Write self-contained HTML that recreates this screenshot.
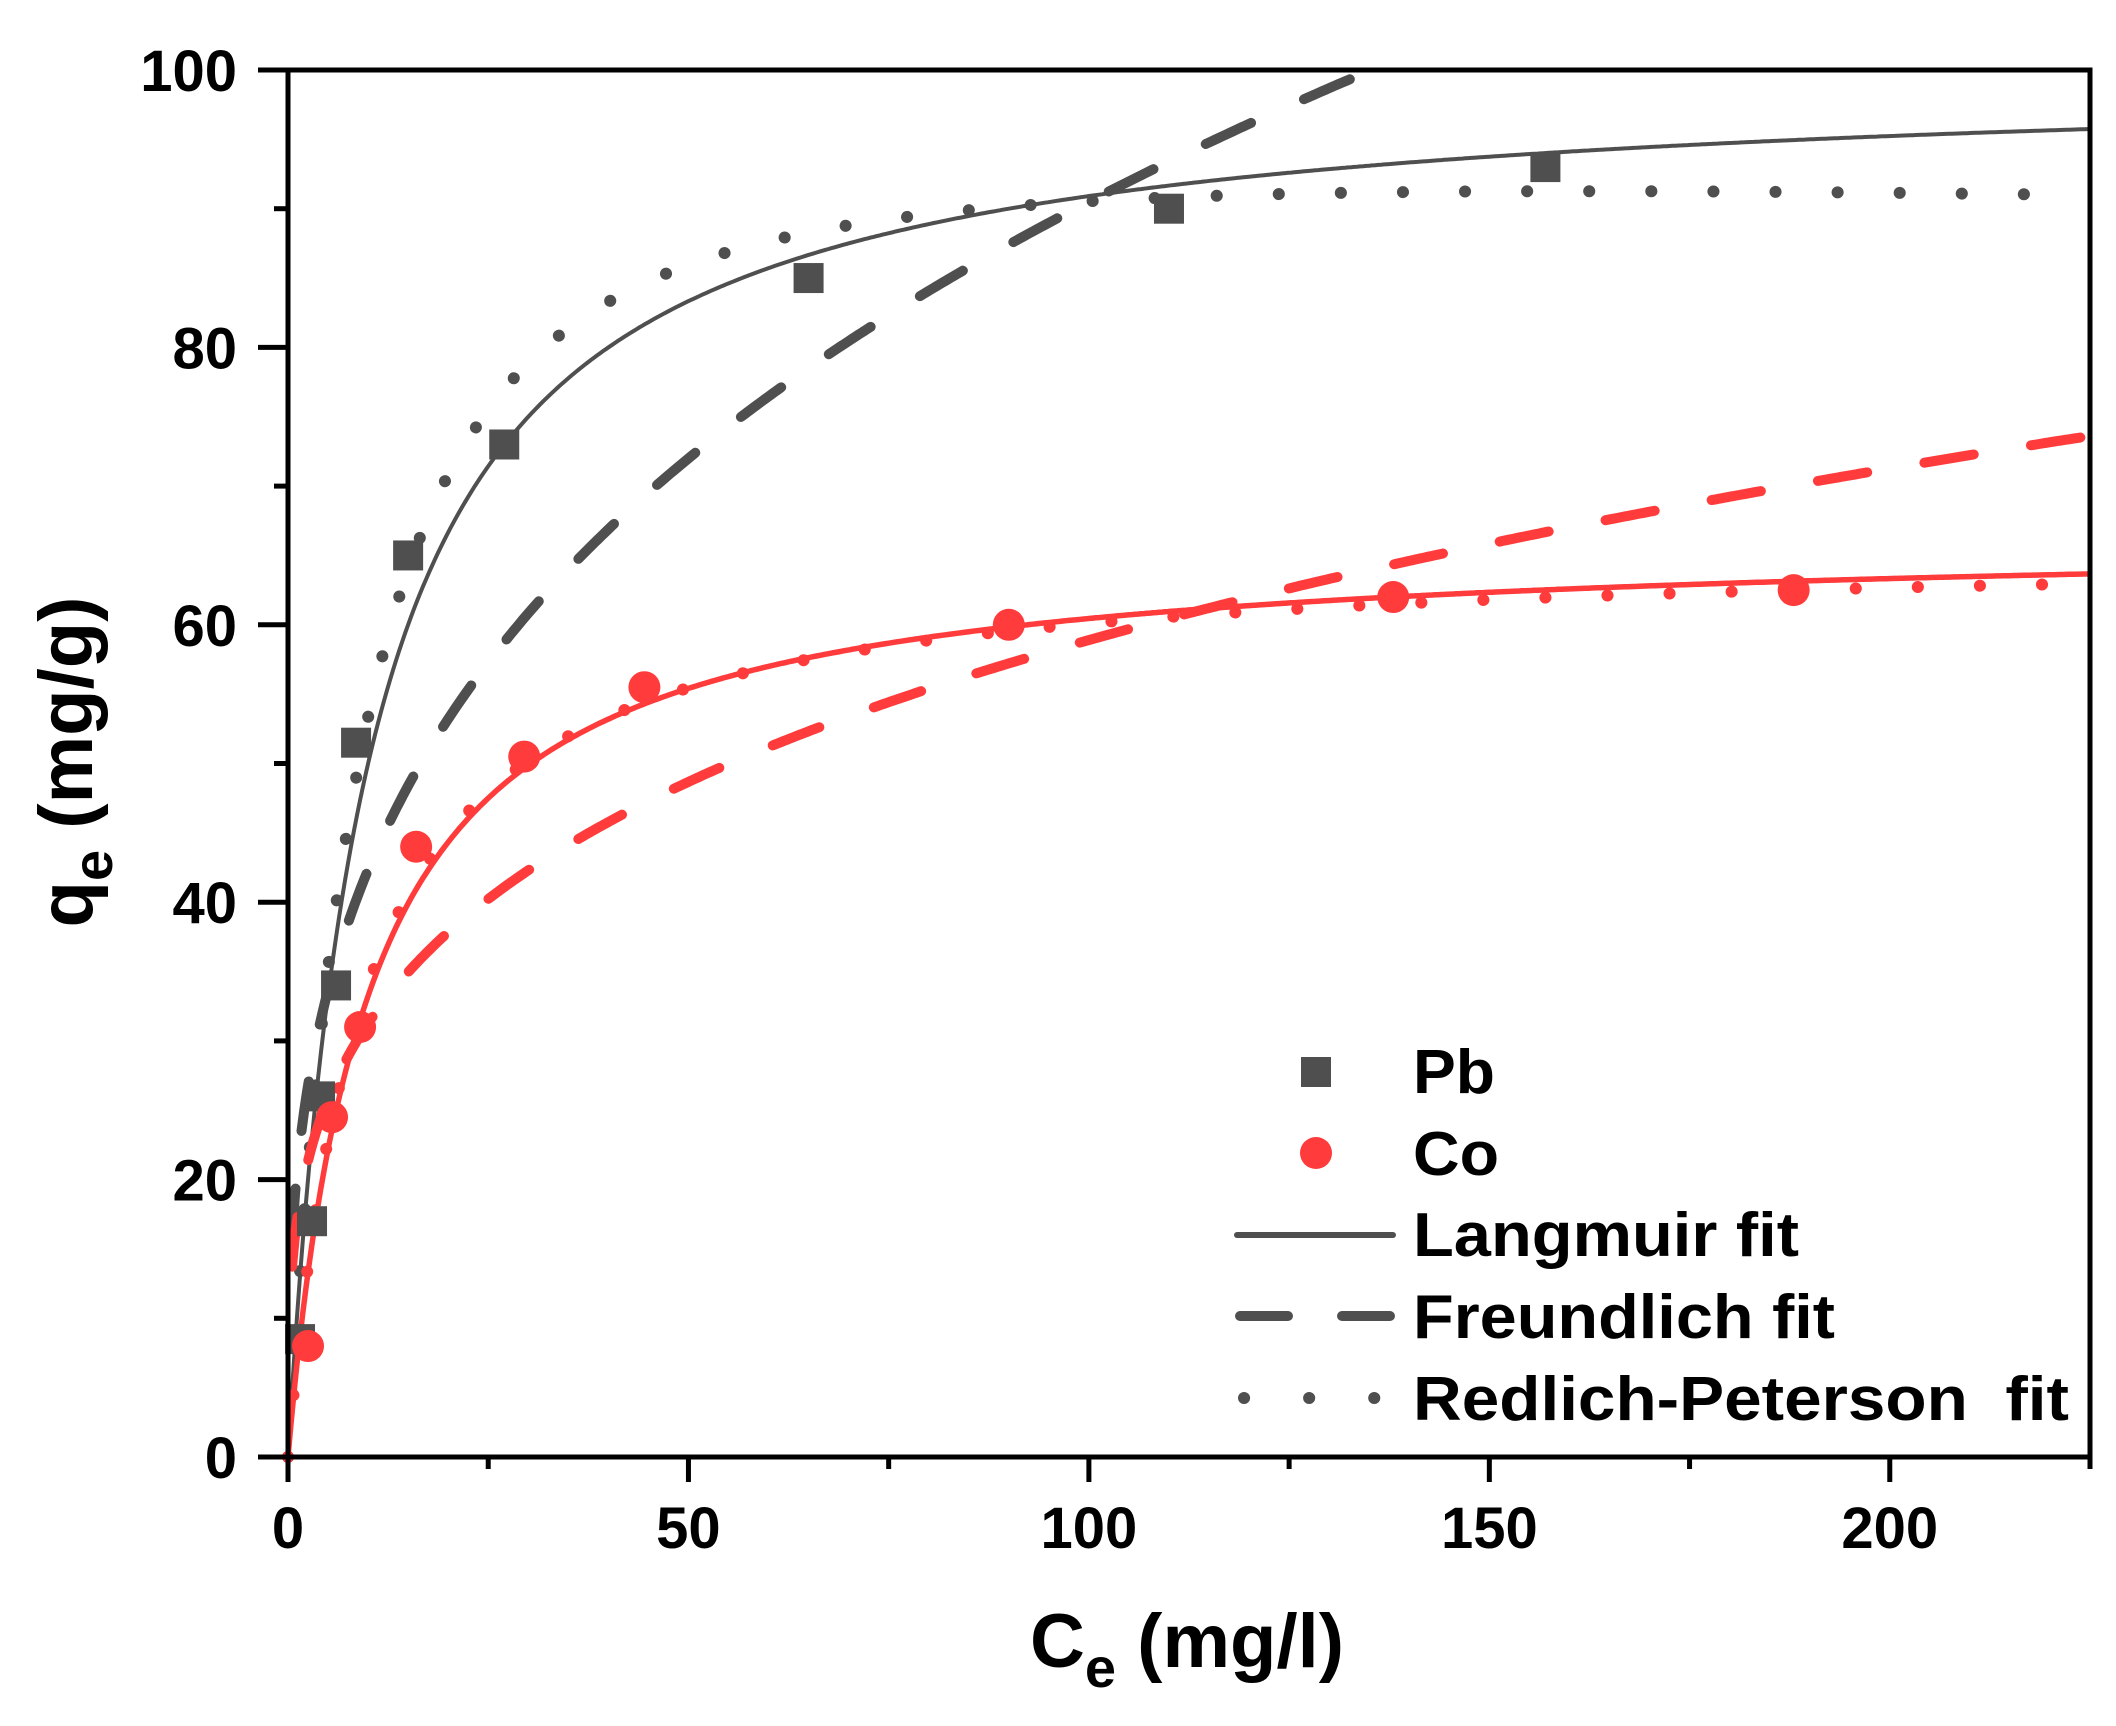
<!DOCTYPE html>
<html><head><meta charset="utf-8"><style>
html,body{margin:0;padding:0;background:#fff;}
svg{display:block;}
text{font-family:"Liberation Sans",sans-serif;font-weight:bold;fill:#000;}
</style></head><body>
<svg id="chart" width="2116" height="1726" viewBox="0 0 2116 1726" xmlns="http://www.w3.org/2000/svg">
<g id="plot"></g>
<g id="axes"></g>
</svg>
<script>
const xTicks = [0, 50, 100, 150, 200];
const yTicks = [0, 20, 40, 60, 80, 100];
const pbX = [1.5, 3, 4, 6, 8.5, 15, 27, 65, 110, 157];
const pbY = [8.5, 17, 26, 34, 51.5, 65, 73, 85, 90, 93];
const coX = [2.5, 5.5, 9, 16, 29.5, 44.5, 90, 138, 188];
const coY = [8, 24.5, 31, 44, 50.5, 55.5, 60, 62, 62.5];
const pbLangmuir = [100, 0.1];        // qm, KL
const coLangmuir = [66.5, 0.1];
const pbFreundlich = [19.8, 0.33];    // KF, 1/n
const coFreundlich = [16.6, 0.275];
const pbRP = [10, 0.0762, 1.06];      // K, a, beta
const coRP = [7, 0.105, 1.003];

const X0=288, X1=2090, Y0=1457, Y1=70, XMAX=225, YMAX=100;
const sx = v => X0 + v/XMAX*(X1-X0);
const sy = v => Y0 - v/YMAX*(Y0-Y1);
const NS='http://www.w3.org/2000/svg';
function mk(tag, attrs, parent){const e=document.createElementNS(NS,tag);for(const k in attrs)e.setAttribute(k,attrs[k]);parent.appendChild(e);return e;}
const plot=document.getElementById('plot'), axes=document.getElementById('axes');
const GRAY='#4f4f4f', RED='#ff3b3b';

function curve(fn, xStart, xEnd){
  let d='';
  for(let i=0;i<=600;i++){
    const c=xStart+(xEnd-xStart)*i/600;
    let q=fn(c);
    if(q>YMAX){ if(d) break; else continue; }
    d+=(d?'L':'M')+sx(c).toFixed(1)+','+sy(q).toFixed(1);
  }
  return d;
}
const lang=p=>c=>p[0]*p[1]*c/(1+p[1]*c);
const freu=p=>c=>p[0]*Math.pow(c,p[1]);
const rp=p=>c=>p[0]*c/(1+p[1]*Math.pow(c,p[2]));

function drawFits(color, L, F, R, prefix, lw){
  let e;
  e=mk('path',{d:curve(freu(F),0.5,XMAX),fill:'none',stroke:color,'stroke-width':10,'stroke-dasharray':'50 58','stroke-linecap':'round'},plot);
  
  
  e=mk('path',{d:curve(rp(R),0,XMAX-3),fill:'none',stroke:color,'stroke-width':12,'stroke-dasharray':'0.1 62','stroke-linecap':'round'},plot);
  
  
  e=mk('path',{d:curve(lang(L),0,XMAX),fill:'none',stroke:color,'stroke-width':lw},plot);
  
  
}
drawFits(GRAY,pbLangmuir,pbFreundlich,pbRP,'pb',4);
drawFits(RED,coLangmuir,coFreundlich,coRP,'co',5.5);

pbX.forEach((x,i)=>{
  const e=mk('rect',{x:sx(x)-15,y:sy(pbY[i])-15,width:30,height:30,fill:GRAY},plot);
  
  
});
coX.forEach((x,i)=>{
  const e=mk('circle',{cx:sx(x),cy:sy(coY[i]),r:16,fill:RED},plot);
  
  
});

let fr=mk('rect',{x:X0,y:Y1,width:X1-X0,height:Y0-Y1,fill:'none',stroke:'#000','stroke-width':5},axes);


for(let v=0;v<=XMAX;v+=25){
  const major=v%50===0;
  mk('line',{x1:sx(v),x2:sx(v),y1:Y0,y2:Y0+(major?25:12),stroke:'#000','stroke-width':5},axes);
}
xTicks.forEach(v=>{
  const t=mk('text',{x:sx(v),y:1548,'text-anchor':'middle','font-size':58},axes);
  t.textContent=v;
  
  
});
for(let v=0;v<=YMAX;v+=10){
  const major=v%20===0;
  mk('line',{x1:X0,x2:X0-(major?30:14),y1:sy(v),y2:sy(v),stroke:'#000','stroke-width':5},axes);
}
yTicks.forEach(v=>{
  const t=mk('text',{x:237,y:sy(v)+21,'text-anchor':'end','font-size':58},axes);
  t.textContent=v;
  
  
});
</script>
<svg style="position:absolute;left:0;top:0" width="2116" height="1726" xmlns="http://www.w3.org/2000/svg">
<text x="1030" y="1667" font-size="76"><tspan>C</tspan><tspan font-size="56" dy="20">e</tspan><tspan dy="-20"> (mg/l)</tspan></text>
<text transform="translate(92,762) rotate(-90)" text-anchor="middle" font-size="76"><tspan>q</tspan><tspan font-size="56" dy="20">e</tspan><tspan dy="-20"> (mg/g)</tspan></text>
<g>
<rect x="1301" y="1057" width="30" height="30" fill="#4f4f4f"/>
<text x="1413" y="1093" font-size="62" textLength="82" lengthAdjust="spacingAndGlyphs">Pb</text></g>
<g>
<circle cx="1316" cy="1153" r="16" fill="#ff3b3b"/>
<text x="1413" y="1175" font-size="62" textLength="86" lengthAdjust="spacingAndGlyphs">Co</text></g>
<g>
<line x1="1237" y1="1235" x2="1393" y2="1235" stroke="#4f4f4f" stroke-width="6" stroke-linecap="round"/>
<text x="1413" y="1256" font-size="62" textLength="386" lengthAdjust="spacingAndGlyphs">Langmuir fit</text></g>
<g>
<line x1="1240" y1="1316" x2="1390" y2="1316" stroke="#4f4f4f" stroke-width="10" stroke-dasharray="48 54" stroke-linecap="round"/>
<text x="1413" y="1338" font-size="62" textLength="422" lengthAdjust="spacingAndGlyphs">Freundlich fit</text></g>
<g>
<line x1="1244" y1="1398" x2="1376" y2="1398" stroke="#4f4f4f" stroke-width="12" stroke-dasharray="0.1 65" stroke-linecap="round"/>
<text x="1413" y="1420" font-size="62" textLength="656" lengthAdjust="spacingAndGlyphs" xml:space="preserve">Redlich-Peterson  fit</text></g>
</svg>
</body></html>
